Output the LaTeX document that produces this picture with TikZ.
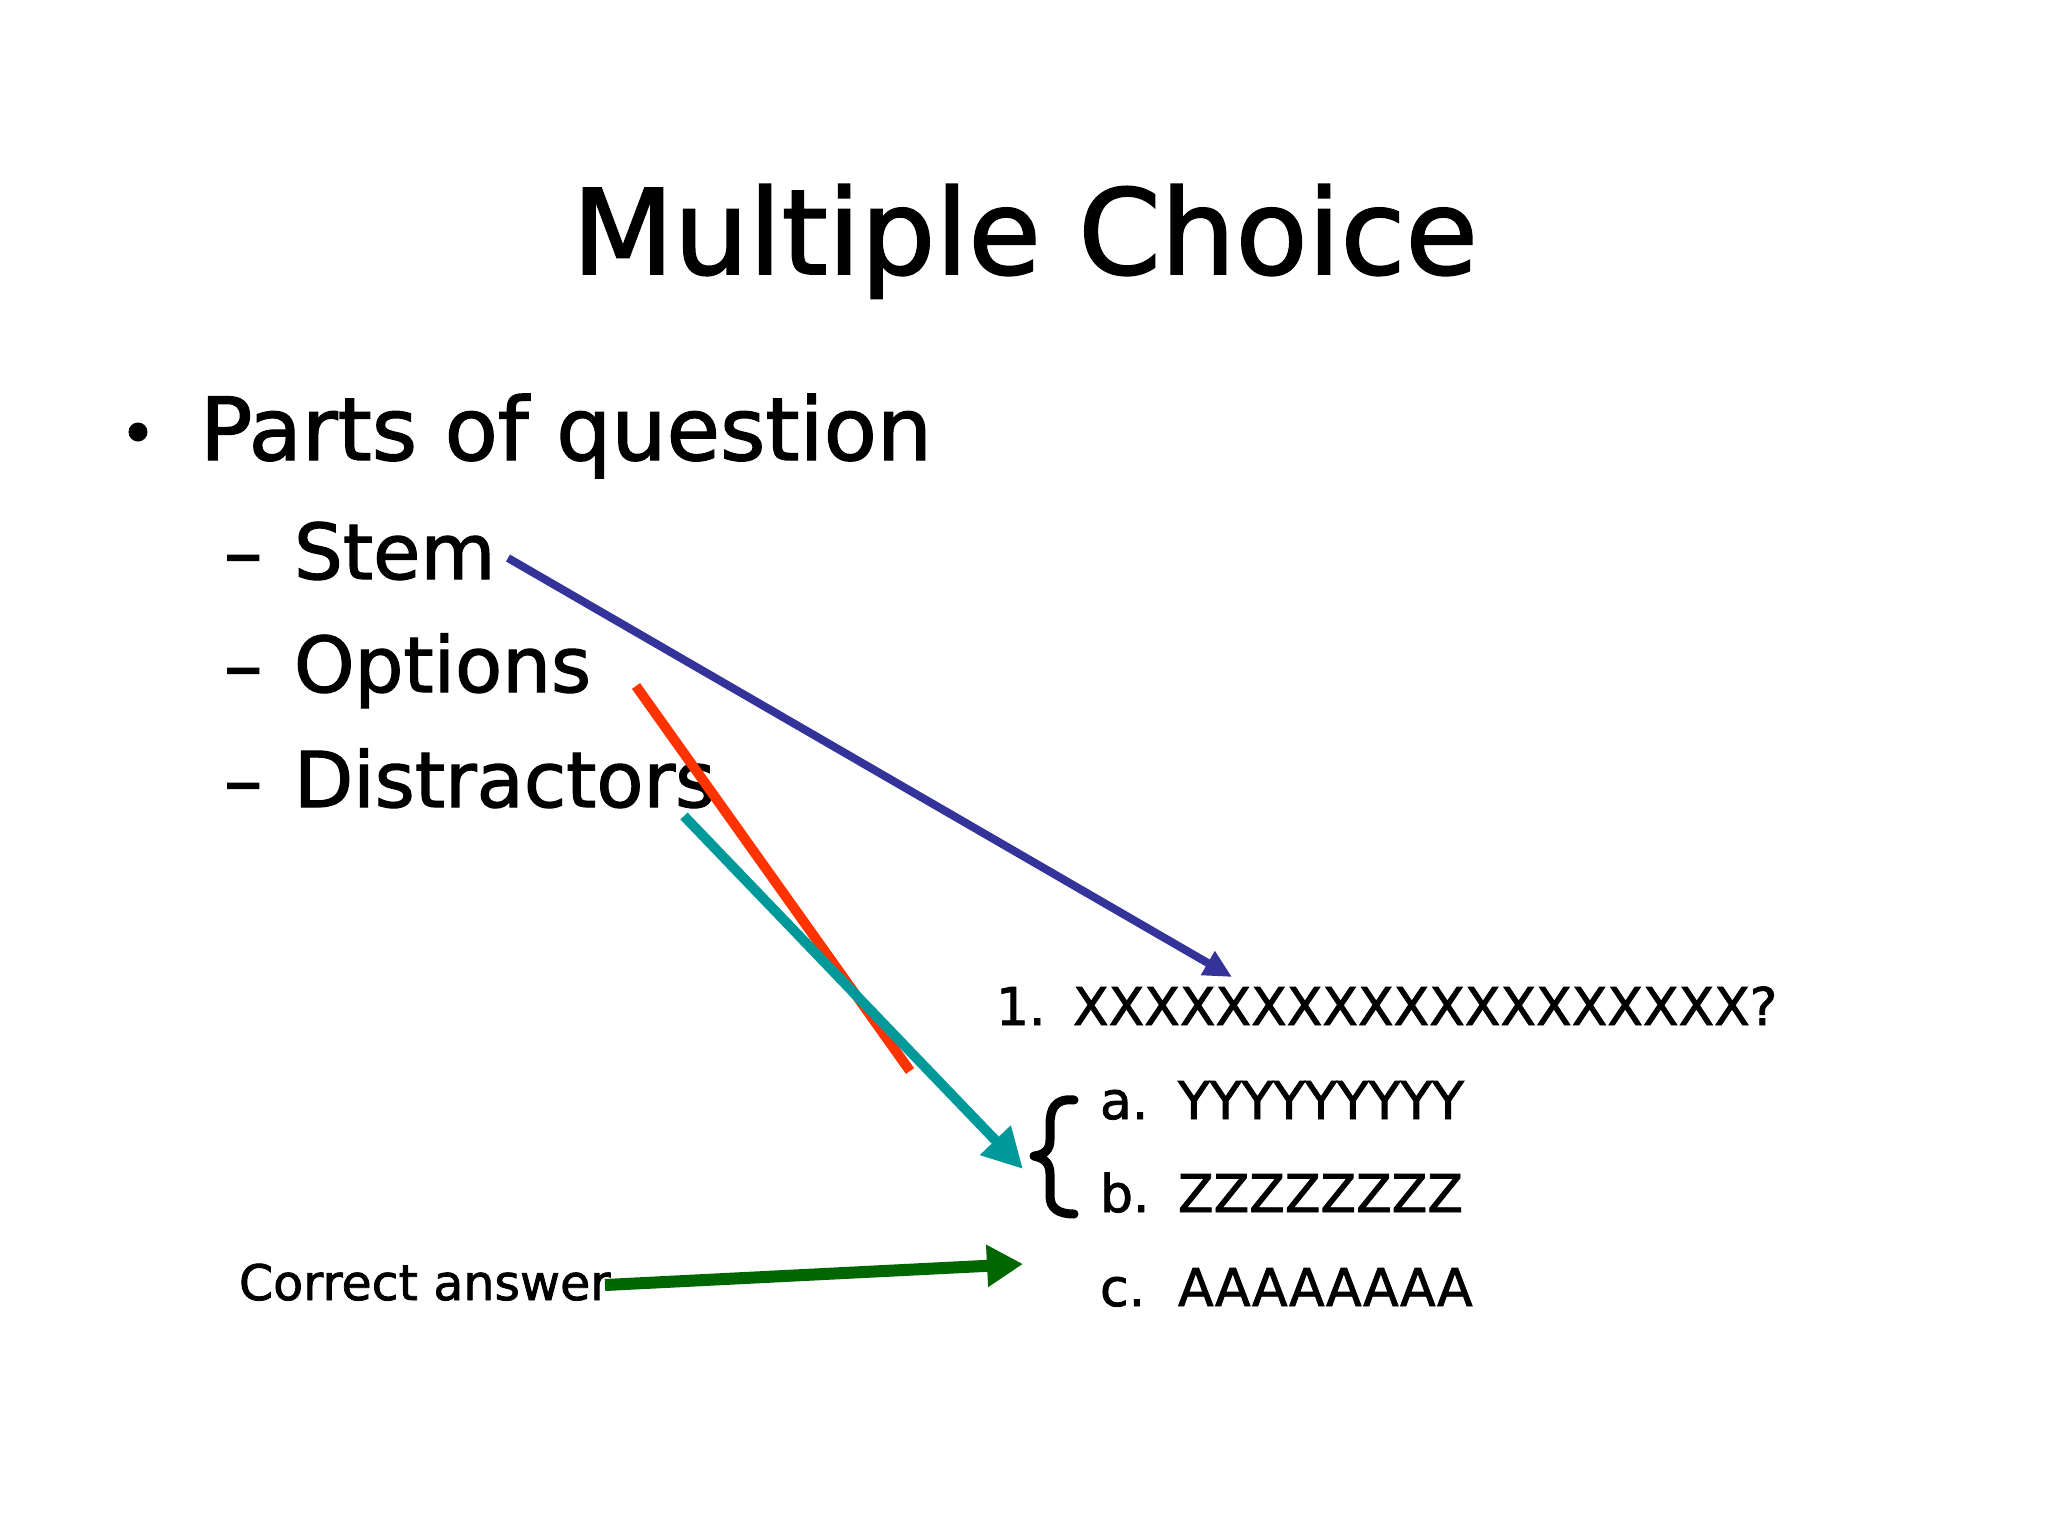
\documentclass[tikz,border=0pt]{standalone}
\usepackage{fontspec}
\setmainfont{DejaVu Sans}[BoldFont=DejaVu Sans, BoldFeatures={FakeBold=1.6}]
\usetikzlibrary{arrows.meta}
\definecolor{stemblue}{HTML}{333399}
\definecolor{optred}{HTML}{FF3300}
\definecolor{distteal}{HTML}{009999}
\definecolor{ansgreen}{HTML}{006600}
\begin{document}
\begin{tikzpicture}[x=0.5pt,y=-0.5pt,
  txt/.style={anchor=base west, inner sep=0pt, outer sep=0pt},
  titlefont/.style={font=\fontsize{59}{66}\selectfont\bfseries},
  lvlone/.style={txt, font=\fontsize{43.5}{50}\selectfont\bfseries},
  lvltwo/.style={txt, font=\fontsize{38.5}{46}\selectfont\bfseries},
  qfont/.style={txt, font=\fontsize{26}{30}\selectfont\bfseries}]
\useasboundingbox (0,0) rectangle (2048,1536);
\fill[white] (0,0) rectangle (2048,1536);

% title
\node[anchor=base, inner sep=0pt, titlefont] (title) at (1025,274) {Multiple Choice};

% bullet list
\node[circle, fill=black, inner sep=0pt, minimum size=9.5pt] (bul) at (138,432) {};
\node[lvlone] (parts) at (200,460) {Parts of question};
\node[lvltwo] (d1) at (224,579) {–};
\node[lvltwo] (stem) at (294,579) {Stem};
\node[lvltwo] (d2) at (224,692) {–};
\node[lvltwo] (options) at (294,692) {Options};
\node[lvltwo] (d3) at (224,807) {–};
\node[lvltwo] (distr) at (294,807) {Distractors};

% question
\node[qfont] (qnum) at (996,1025) {1.};
\node[qfont] (qtext) at (1073,1025) {XXXXXXXXXXXXXXXXXXX?};
\node[qfont] (la) at (1100,1119) {a.};
\node[qfont] (oa) at (1178,1119) {YYYYYYYYY};
\node[qfont] (lb) at (1100,1212) {b.};
\node[qfont] (ob) at (1178,1212) {ZZZZZZZZ};
\node[qfont] (lc) at (1100,1306) {c.};
\node[qfont] (oc) at (1178,1306) {AAAAAAAA};

% brace
\draw[line width=4.5pt, line cap=round, line join=round]
  (1074,1100) .. controls (1054,1098) and (1050,1110) .. (1050,1125)
  -- (1050,1140) .. controls (1050,1150) and (1044,1155) .. (1034,1156)
  .. controls (1044,1158) and (1050,1163) .. (1050,1174)
  -- (1050,1196) .. controls (1050,1208) and (1058,1214) .. (1074,1214);

% correct answer label
\node[txt, font=\fontsize{24.5}{30}\selectfont\bfseries] (correct) at (239,1300) {Correct answer};

% connector end points
\coordinate (stemS) at (508,558);
\coordinate (stemE) at (1232,977);
\coordinate (optS) at (636,686);
\coordinate (optE) at (910,1071);
\coordinate (distS) at (684,816);
\coordinate (distE) at (1023,1169);
\coordinate (corrS) at (605,1285);
\coordinate (corrE) at (1023,1264);

% connectors
\draw[stemblue, line width=4pt, -{Triangle[length=14pt,width=13pt]}] (stemS) -- (stemE);
\draw[optred, line width=5pt] (optS) -- (optE);
\draw[distteal, line width=5pt, -{Triangle[length=20pt,width=20pt]}] (distS) -- (distE);
\draw[ansgreen, line width=6pt, -{Triangle[length=18pt,width=20pt]}] (corrS) -- (corrE);
\end{tikzpicture}
\end{document}
